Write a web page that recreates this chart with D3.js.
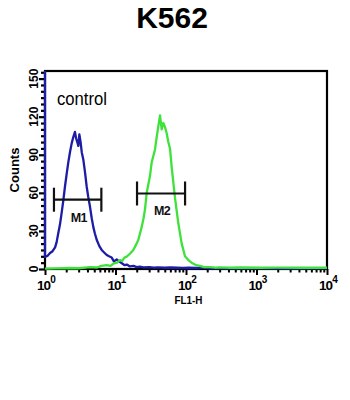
<!DOCTYPE html>
<html>
<head>
<meta charset="utf-8">
<script src="https://cdn.jsdelivr.net/npm/d3@7"></script>
<style>
	body { margin: 0; background: #fff; }
	text { font-family: "Liberation Sans", Arial, sans-serif; }
</style>
</head>
<body>
<div class="c-svg"></div>
<script>
//DATA
//-------------------------------------------------------------------------

const title = "K562";
const sampleLabel = "control";

//control histogram (blue)
const controlFL = [1, 1, 1.09, 1.18, 1.28, 1.39, 1.46, 1.54, 1.63, 1.72, 1.82, 1.92, 2.03, 2.14, 2.26, 2.39, 2.52, 2.66, 2.76, 2.87, 2.97, 3.07, 3.2, 3.32, 3.5, 3.7, 3.9, 4.1, 4.35, 4.6, 4.85, 5.1, 5.41, 5.9, 6.37, 6.9, 7.51, 8.1, 8.83, 9.5, 10.4, 11.2, 12.3, 13.5, 14.5, 16, 18, 20, 22, 25, 30, 35, 40, 50, 60, 75, 90, 110, 140, 180, 220, 300, 500, 1000, 3000, 10000];
const controlCounts = [156, 9.5, 10.5, 12.6, 14, 17, 21, 28, 35, 44, 54, 65, 75, 84, 92, 99, 104, 108, 103, 100, 97, 106, 100, 92, 86, 76, 65, 57, 49, 40, 33, 28, 23, 18, 15, 13, 11, 10, 9, 6, 7.5, 6, 4.5, 3, 3.5, 2, 2.5, 1.5, 1.8, 1.2, 1.5, 1, 1.3, 1, 1.2, 1, 0.8, 1, 0.8, 1, 0.5, 0.6, 0.4, 0.5, 0.4, 0.5];

//antibody histogram (green)
const sampleFL = [1, 1.5, 2.26, 3, 4.35, 5.5, 6.3, 7.5, 8.5, 9.5, 10.5, 11.6, 12.5, 13.4, 14.4, 16, 17.9, 19.5, 21.1, 23.5, 25, 26.2, 27.7, 30.8, 32.6, 36.3, 38.4, 40.4, 42.8, 45.2, 47.6, 50.3, 53.2, 56.1, 59.3, 62.7, 69.8, 77.8, 86.9, 96.8, 108, 120, 140, 158, 180, 219, 260, 300, 421, 600, 1122, 2000, 4140, 10000];
const sampleCounts = [0.3, 0.5, 0.8, 0.6, 1.5, 1.2, 2.5, 3, 2.5, 4.5, 5, 7, 6.5, 9, 9.7, 12, 15, 19, 23, 33, 40, 47, 60, 73, 84, 94, 104, 112, 121, 110, 115, 112, 107, 100, 95, 80, 56, 36, 20, 10, 7, 5, 3, 2.5, 1.5, 1.5, 1, 1.3, 1, 1.2, 1, 1.1, 1, 1];

//gates
const markerNames = ["M1", "M2"];
const markerStart = [1.34, 20.2];
const markerEnd = [6.3, 97];
const markerLevel = [54.6, 59.5];

//ticks
const xDecades = [1, 10, 100, 1000, 10000];
const yLabelTicks = [0, 30, 60, 90, 120, 150];


//INITIALISATION
//-------------------------------------------------------------------------

const opts = {
	width: 350,
	height: 400,
	margin: { top: 71, right: 23, bottom: 131, left: 45 }
};

const inner = {
	width: opts.width - opts.margin.left - opts.margin.right,
	height: opts.height - opts.margin.top - opts.margin.bottom
};

const svg = d3.select(".c-svg")
	.append("svg")
	.attr("width", opts.width)
	.attr("height", opts.height)
	.style("display", "block");

svg.append("rect")
	.attr("width", opts.width)
	.attr("height", opts.height)
	.attr("fill", "#fff");

//title
svg.append("text")
	.attr("x", 172)
	.attr("y", 28)
	.attr("text-anchor", "middle")
	.attr("font-size", 30)
	.attr("font-weight", "bold")
	.text(title);

const g = svg.append("g")
	.attr("transform", `translate(${opts.margin.left} ${opts.margin.top})`);

const x = d3.scaleLog()
	.domain([1, 10000])
	.range([0, inner.width]);

const y = d3.scaleLinear()
	.domain([0, 156])
	.range([inner.height, 0]);


//AXIS
//-------------------------------------------------------------------------

//y minor + major ticks
const yAxis = d3.axisLeft(y)
	.tickValues(d3.range(0, 156, 5))
	.tickSize(4)
	.tickFormat("");

g.append("g")
	.attr("class", "axis y_axis")
	.call(yAxis)
	.call((a) => a.select(".domain").remove())
	.selectAll(".tick line")
	.attr("stroke-width", 2.2)
	.attr("x2", (d) => yLabelTicks.includes(d) ? -6 : -4);

g.selectAll(".y_label")
	.data(yLabelTicks)
	.join("text")
	.attr("class", "y_label")
	.attr("transform", (d) => `translate(-7 ${y(d)}) rotate(-90)`)
	.attr("text-anchor", "middle")
	.attr("font-size", 12)
	.attr("font-weight", "bold")
	.text((d) => d);

//x log ticks
const xMinor = [];
xDecades.slice(0, -1).forEach((d) => {
	d3.range(2, 10).forEach((k) => xMinor.push(d * k));
});

const xAxis = d3.axisBottom(x)
	.tickValues(xDecades.concat(xMinor))
	.tickSize(3)
	.tickFormat("");

g.append("g")
	.attr("class", "axis x_axis")
	.attr("transform", `translate(0 ${inner.height})`)
	.call(xAxis)
	.call((a) => a.select(".domain").remove())
	.selectAll(".tick line")
	.attr("stroke-width", 2)
	.attr("y2", (d) => xDecades.includes(d) ? 6 : 3.5);

const xLabels = g.selectAll(".x_label")
	.data(xDecades)
	.join("text")
	.attr("class", "x_label")
	.attr("x", (d) => x(d) + 1)
	.attr("y", inner.height + 21)
	.attr("text-anchor", "middle")
	.attr("font-size", 13.5)
	.attr("font-weight", "bold")
	.attr("letter-spacing", -0.8);

xLabels.append("tspan").text("10");
xLabels.append("tspan")
	.attr("dy", -7)
	.attr("font-size", 10)
	.text((d) => Math.round(Math.log10(d)));

//axis titles
svg.append("text")
	.attr("transform", "translate(19 170) rotate(-90)")
	.attr("text-anchor", "middle")
	.attr("font-size", 13)
	.attr("font-weight", "bold")
	.attr("textLength", 45)
	.attr("lengthAdjust", "spacingAndGlyphs")
	.text("Counts");

svg.append("text")
	.attr("x", 188.5)
	.attr("y", 304)
	.attr("text-anchor", "middle")
	.attr("font-size", 11)
	.attr("font-weight", "bold")
	.attr("textLength", 28)
	.attr("lengthAdjust", "spacingAndGlyphs")
	.text("FL1-H");


//HISTOGRAMS
//-------------------------------------------------------------------------

const line = d3.line()
	.x((d) => x(d[0]))
	.y((d) => y(d[1]));

const plot = g.append("g");

//frame
plot.append("rect")
	.attr("width", inner.width)
	.attr("height", inner.height)
	.attr("fill", "none")
	.attr("stroke", "#000")
	.attr("stroke-width", 2.2);

plot.append("path")
	.datum(d3.zip(controlFL, controlCounts))
	.attr("fill", "none")
	.attr("stroke", "#1c1ca6")
	.attr("stroke-width", 2.3)
	.attr("stroke-linejoin", "round")
	.attr("d", line);

plot.append("path")
	.datum(d3.zip(sampleFL, sampleCounts))
	.attr("fill", "none")
	.attr("stroke", "#3ee23a")
	.attr("stroke-width", 2.3)
	.attr("stroke-linejoin", "round")
	.attr("d", line);

plot.append("text")
	.attr("x", 12)
	.attr("y", 34)
	.attr("font-size", 18)
	.attr("textLength", 50)
	.attr("lengthAdjust", "spacingAndGlyphs")
	.text(sampleLabel);


//MARKERS
//-------------------------------------------------------------------------

const markers = plot.selectAll(".marker")
	.data(markerNames)
	.join("g")
	.attr("class", "marker")
	.attr("stroke", "#111")
	.attr("stroke-width", 2.2);

markers.append("line")
	.attr("x1", (d, i) => x(markerStart[i]))
	.attr("x2", (d, i) => x(markerEnd[i]))
	.attr("y1", (d, i) => y(markerLevel[i]))
	.attr("y2", (d, i) => y(markerLevel[i]));

markers.append("line")
	.attr("x1", (d, i) => x(markerStart[i]))
	.attr("x2", (d, i) => x(markerStart[i]))
	.attr("y1", (d, i) => y(markerLevel[i]) - 12)
	.attr("y2", (d, i) => y(markerLevel[i]) + 12);

markers.append("line")
	.attr("x1", (d, i) => x(markerEnd[i]))
	.attr("x2", (d, i) => x(markerEnd[i]))
	.attr("y1", (d, i) => y(markerLevel[i]) - 12)
	.attr("y2", (d, i) => y(markerLevel[i]) + 12);

markers.append("text")
	.attr("x", (d, i) => (x(markerStart[i]) + x(markerEnd[i])) / 2 + 1)
	.attr("y", (d, i) => y(markerLevel[i]) + 22)
	.attr("text-anchor", "middle")
	.attr("stroke", "none")
	.attr("fill", "#111")
	.attr("font-size", 12.5)
	.attr("font-weight", "bold")
	.attr("letter-spacing", -0.7)
	.text((d) => d);
</script>
</body>
</html>
